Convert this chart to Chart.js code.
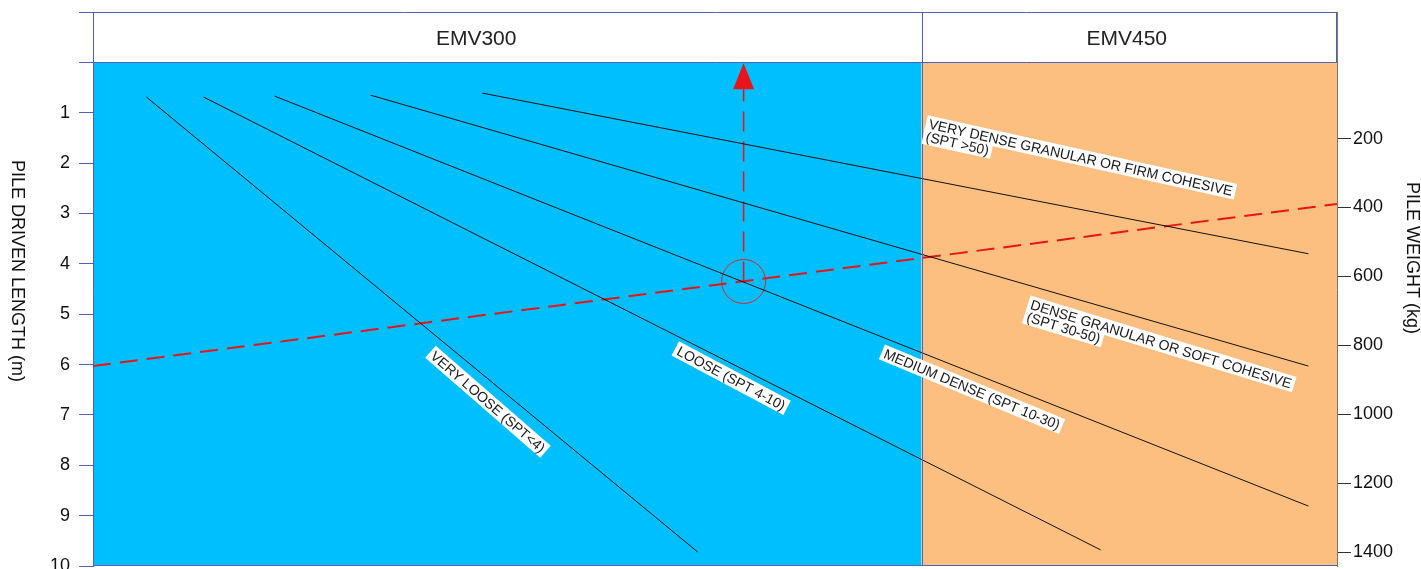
<!DOCTYPE html>
<html>
<head>
<meta charset="utf-8">
<script src="https://cdn.jsdelivr.net/npm/chart.js@4.4.1/dist/chart.umd.min.js"></script>
<style>
  html, body { margin: 0; padding: 0; background: #fff; overflow: hidden; }
</style>
</head>
<body>
<canvas id="pileChart" width="1421" height="569"></canvas>
<script>
// Datos (x en % del ancho, y en metros de hinca)
const soilNames = ['VERY LOOSE (SPT<4)', 'LOOSE (SPT 4-10)', 'MEDIUM DENSE (SPT 10-30)',
  'DENSE GRANULAR OR SOFT COHESIVE (SPT 30-50)', 'VERY DENSE GRANULAR OR FIRM COHESIVE (SPT >50)'];
const soilStartX = [4.3, 8.9, 14.6, 22.3, 31.3];
const soilStartLen = [0.69, 0.69, 0.67, 0.65, 0.61];
const soilEndX = [48.6, 81.0, 97.7, 97.7, 97.7];
const soilEndLen = [9.72, 9.68, 8.81, 6.03, 3.80];

// Recta de peso del pilote (roja discontinua)
const weightX = [0, 100];
const weightLen = [6.03, 2.81];

// Punto de diseño y flecha
const designX = 52.3;
const designLen = 4.35;

// Zonas de equipo
const zoneNames = ['EMV300', 'EMV450'];
const zoneEdges = [0, 66.6, 100];

// Ejes
const lengthTicks = [-1, 0, 1, 2, 3, 4, 5, 6, 7, 8, 9, 10];
const weightTicks = [200, 400, 600, 800, 1000, 1200, 1400];

const FONT = '"Liberation Sans", Arial, sans-serif';
const AXIS_BLUE = '#5062b8';
const ZONE_COLORS = ['#00bfff', '#fdbf7f'];
const RED = '#e8141a';

// Etiquetas de las rectas (posición en unidades de datos)
const soilLabels = [
  { lines: ['VERY LOOSE (SPT<4)'], x: 31.75, y: 6.74, angle: 41, align: 'center' },
  { lines: ['LOOSE (SPT 4-10)'], x: 51.3, y: 6.27, angle: 28, align: 'center' },
  { lines: ['MEDIUM DENSE (SPT 10-30)'], x: 70.66, y: 6.49, angle: 22.5, align: 'center' },
  { lines: ['DENSE GRANULAR OR SOFT COHESIVE', '(SPT 30-50)'], x: 75.4, y: 4.80, angle: 17, align: 'left' },
  { lines: ['VERY DENSE GRANULAR OR FIRM COHESIVE', '(SPT >50)'], x: 67.2, y: 1.22, angle: 12.5, align: 'left' }
];
const headerLabelX = [30.8, 83.1];

const datasets = soilNames.map((name, i) => ({
  label: name,
  data: [{ x: soilStartX[i], y: soilStartLen[i] }, { x: soilEndX[i], y: soilEndLen[i] }],
  borderColor: '#111',
  borderWidth: 1,
  pointRadius: 0
}));

datasets.push({
  label: 'Pile weight',
  data: weightX.map((x, i) => ({ x: x, y: weightLen[i] })),
  borderColor: RED,
  borderWidth: 2,
  borderDash: [18, 9],
  pointRadius: 0
});

datasets.push({
  label: 'Design',
  data: [{ x: designX, y: designLen }, { x: designX, y: 0.5 }],
  borderColor: RED,
  borderWidth: 1.5,
  borderDash: [20, 10],
  pointRadius: 0
});

datasets.push({
  label: 'Circle',
  data: [{ x: designX, y: designLen }],
  showLine: false,
  pointRadius: 22,
  pointBorderWidth: 1,
  pointBorderColor: '#d8262c',
  pointBackgroundColor: 'rgba(0,0,0,0)'
});

const pilePlugin = {
  id: 'pilePlugin',
  beforeDraw(chart) {
    const { ctx, chartArea, scales } = chart;
    const x = scales.x, y = scales.y;
    ctx.save();
    ctx.fillStyle = '#fff';
    ctx.fillRect(0, 0, chart.width, chart.height);
    for (let i = 0; i < zoneNames.length; i++) {
      const x0 = x.getPixelForValue(zoneEdges[i]);
      const x1 = x.getPixelForValue(zoneEdges[i + 1]);
      const y0 = y.getPixelForValue(0);
      ctx.fillStyle = ZONE_COLORS[i];
      ctx.fillRect(x0, y0, x1 - x0, chartArea.bottom - y0);
    }
    ctx.restore();
  },
  afterDatasetsDraw(chart) {
    const { ctx, chartArea, scales } = chart;
    const x = scales.x, y = scales.y;
    ctx.save();

    // divisor de zonas y bordes
    ctx.strokeStyle = AXIS_BLUE;
    ctx.lineWidth = 1;
    ctx.beginPath();
    const xd = Math.round(x.getPixelForValue(zoneEdges[1])) + 0.5;
    ctx.moveTo(xd, chartArea.top);
    ctx.lineTo(xd, chartArea.bottom);
    ctx.moveTo(chartArea.left, chartArea.bottom - 0.5);
    ctx.lineTo(chartArea.right, chartArea.bottom - 0.5);
    ctx.moveTo(chartArea.right - 0.5, chartArea.top);
    ctx.lineTo(chartArea.right - 0.5, y.getPixelForValue(0));
    ctx.stroke();

    // cabecera
    ctx.fillStyle = '#222';
    ctx.font = '21px ' + FONT;
    ctx.textAlign = 'center';
    ctx.textBaseline = 'middle';
    const yh = (y.getPixelForValue(-1) + y.getPixelForValue(0)) / 2 + 2;
    zoneNames.forEach((n, i) => ctx.fillText(n, x.getPixelForValue(headerLabelX[i]), yh));

    // flecha
    const ax = x.getPixelForValue(designX);
    const ay = y.getPixelForValue(0);
    ctx.fillStyle = RED;
    ctx.beginPath();
    ctx.moveTo(ax, ay + 1);
    ctx.lineTo(ax + 10.5, ay + 27);
    ctx.lineTo(ax - 10.5, ay + 27);
    ctx.closePath();
    ctx.fill();

    // etiquetas de suelo
    ctx.font = '14px ' + FONT;
    ctx.textBaseline = 'middle';
    const lineH = 13;
    soilLabels.forEach(l => {
      ctx.save();
      ctx.translate(x.getPixelForValue(l.x), y.getPixelForValue(l.y));
      ctx.rotate(l.angle * Math.PI / 180);
      ctx.textAlign = l.align;
      l.lines.forEach((t, k) => {
        const w = ctx.measureText(t).width;
        const bx = l.align === 'center' ? -w / 2 : 0;
        ctx.fillStyle = '#fff';
        ctx.fillRect(bx - 3, k * lineH - 8, w + 6, 16);
      });
      ctx.fillStyle = '#1a1a1a';
      l.lines.forEach((t, k) => ctx.fillText(t, 0, k * lineH + 1));
      ctx.restore();
    });

    // títulos de ejes
    ctx.font = '18px ' + FONT;
    ctx.fillStyle = '#111';
    ctx.textAlign = 'center';
    [['PILE DRIVEN LENGTH (m)', 17, 271], ['PILE WEIGHT (kg)', 1412, 258]].forEach(([t, px, py]) => {
      ctx.save();
      ctx.translate(px, py);
      ctx.rotate(Math.PI / 2);
      ctx.fillText(t, 0, 0);
      ctx.restore();
    });
    ctx.restore();
  }
};

new Chart(document.getElementById('pileChart'), {
  type: 'line',
  data: { datasets: datasets },
  plugins: [pilePlugin],
  options: {
    responsive: false,
    animation: false,
    layout: { autoPadding: false, padding: { top: 12, bottom: 3, left: 0, right: 0 } },
    plugins: { legend: { display: false }, tooltip: { enabled: false } },
    scales: {
      x: { type: 'linear', min: 0, max: 100, display: false },
      y: {
        type: 'linear',
        position: 'left',
        reverse: true,
        min: -1,
        max: 10,
        afterBuildTicks: s => { s.ticks = lengthTicks.map(v => ({ value: v })); },
        afterFit: s => { s.width = 93; s.paddingTop = 0; s.paddingBottom = 0; },
        border: { color: AXIS_BLUE, width: 1 },
        grid: {
          color: c => (c.tick && c.tick.value <= 0) ? AXIS_BLUE : 'rgba(0,0,0,0)',
          tickColor: AXIS_BLUE,
          tickLength: 14,
          lineWidth: 1
        },
        ticks: {
          padding: 9,
          color: '#111',
          font: { family: FONT, size: 18 },
          callback: v => v > 0 ? String(v) : ''
        }
      },
      y2: {
        type: 'linear',
        position: 'right',
        reverse: true,
        min: -167.5,
        max: 1440.6,
        afterBuildTicks: s => { s.ticks = weightTicks.map(v => ({ value: v })); },
        afterFit: s => { s.width = 84; s.paddingTop = 0; s.paddingBottom = 0; },
        border: { color: '#777', width: 1 },
        grid: { drawOnChartArea: false, tickColor: '#333', tickLength: 14 },
        ticks: {
          padding: 2,
          color: '#111',
          font: { family: FONT, size: 18 },
          callback: v => String(v)
        }
      }
    }
  }
});
</script>
</body>
</html>
